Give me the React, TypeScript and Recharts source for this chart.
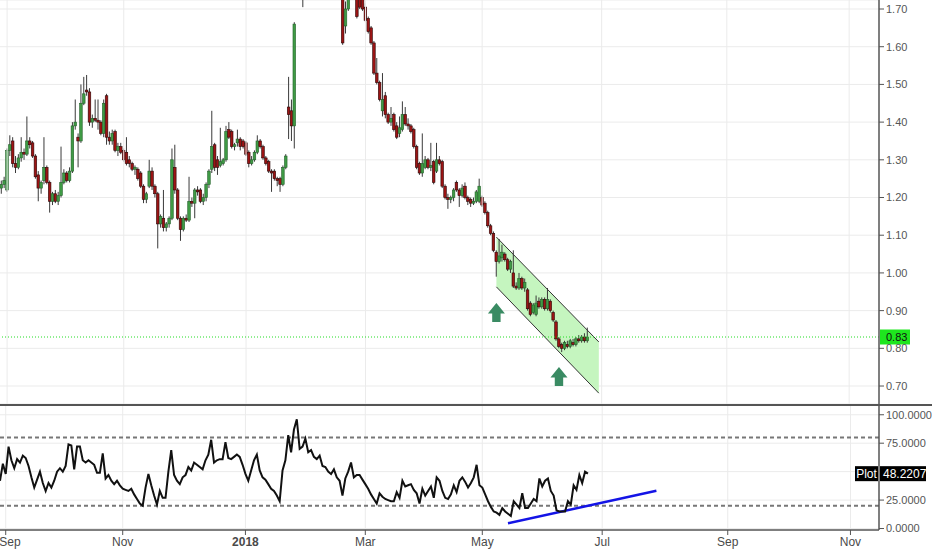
import {
    ComposedChart, Bar, Line, Area, XAxis, YAxis, CartesianGrid, ReferenceLine, ReferenceDot
} from 'recharts';

// daily candles [open, high, low, close]
const ohlc: [number, number, number, number][] = [
    [1.225, 1.245, 1.21, 1.235], [1.235, 1.255, 1.225, 1.245], [1.22, 1.33, 1.215, 1.325], [1.325, 1.365, 1.31, 1.34], [1.35, 1.36, 1.28, 1.29],
    [1.29, 1.31, 1.265, 1.28], [1.28, 1.315, 1.275, 1.305], [1.305, 1.36, 1.295, 1.32], [1.32, 1.33, 1.30, 1.315], [1.315, 1.415, 1.31, 1.35],
    [1.35, 1.36, 1.33, 1.34], [1.345, 1.35, 1.305, 1.31], [1.31, 1.315, 1.25, 1.255], [1.26, 1.27, 1.19, 1.225], [1.225, 1.245, 1.21, 1.24],
    [1.245, 1.36, 1.235, 1.28], [1.28, 1.285, 1.235, 1.24], [1.24, 1.245, 1.16, 1.19], [1.19, 1.215, 1.18, 1.21], [1.21, 1.22, 1.185, 1.19],
    [1.19, 1.215, 1.18, 1.205], [1.205, 1.335, 1.20, 1.24], [1.24, 1.275, 1.235, 1.265], [1.265, 1.27, 1.24, 1.245], [1.245, 1.28, 1.24, 1.27],
    [1.27, 1.40, 1.265, 1.39], [1.39, 1.46, 1.38, 1.40], [1.36, 1.37, 1.28, 1.35], [1.35, 1.50, 1.345, 1.45], [1.45, 1.52, 1.445, 1.475],
    [1.485, 1.525, 1.47, 1.48], [1.48, 1.49, 1.39, 1.40], [1.40, 1.42, 1.385, 1.41], [1.41, 1.46, 1.40, 1.405], [1.405, 1.46, 1.38, 1.40],
    [1.40, 1.405, 1.365, 1.37], [1.37, 1.46, 1.36, 1.45], [1.47, 1.475, 1.34, 1.36], [1.36, 1.375, 1.34, 1.35], [1.35, 1.38, 1.34, 1.37],
    [1.375, 1.38, 1.32, 1.325], [1.325, 1.345, 1.31, 1.335], [1.335, 1.345, 1.315, 1.32], [1.325, 1.33, 1.295, 1.30], [1.32, 1.36, 1.285, 1.29],
    [1.30, 1.31, 1.28, 1.29], [1.29, 1.295, 1.27, 1.275], [1.275, 1.285, 1.26, 1.28], [1.275, 1.28, 1.245, 1.25], [1.265, 1.27, 1.225, 1.23],
    [1.23, 1.235, 1.185, 1.195], [1.195, 1.215, 1.185, 1.21], [1.23, 1.30, 1.225, 1.27], [1.27, 1.28, 1.22, 1.23], [1.23, 1.235, 1.20, 1.21],
    [1.21, 1.215, 1.065, 1.13], [1.13, 1.155, 1.12, 1.15], [1.145, 1.22, 1.11, 1.12], [1.12, 1.135, 1.11, 1.13], [1.13, 1.15, 1.12, 1.145],
    [1.145, 1.33, 1.14, 1.30], [1.28, 1.34, 1.21, 1.22], [1.22, 1.225, 1.14, 1.145], [1.145, 1.15, 1.085, 1.115], [1.115, 1.15, 1.11, 1.145],
    [1.145, 1.155, 1.135, 1.14], [1.14, 1.255, 1.135, 1.19], [1.19, 1.20, 1.175, 1.185], [1.185, 1.225, 1.145, 1.22], [1.22, 1.23, 1.205, 1.215],
    [1.22, 1.225, 1.185, 1.19], [1.19, 1.21, 1.18, 1.20], [1.20, 1.24, 1.19, 1.235], [1.235, 1.275, 1.225, 1.27], [1.275, 1.43, 1.265, 1.335],
    [1.34, 1.345, 1.27, 1.28], [1.30, 1.31, 1.26, 1.28], [1.285, 1.385, 1.28, 1.295], [1.29, 1.305, 1.285, 1.30], [1.30, 1.39, 1.295, 1.375],
    [1.38, 1.40, 1.355, 1.36], [1.375, 1.38, 1.33, 1.335], [1.335, 1.345, 1.325, 1.34], [1.345, 1.38, 1.335, 1.355], [1.355, 1.36, 1.325, 1.335],
    [1.35, 1.355, 1.33, 1.335], [1.345, 1.35, 1.31, 1.315], [1.32, 1.325, 1.28, 1.29], [1.29, 1.31, 1.285, 1.30], [1.30, 1.325, 1.295, 1.32],
    [1.32, 1.365, 1.315, 1.35], [1.35, 1.355, 1.33, 1.335], [1.335, 1.34, 1.30, 1.305], [1.305, 1.31, 1.285, 1.29], [1.295, 1.30, 1.265, 1.27],
    [1.27, 1.275, 1.215, 1.265], [1.27, 1.275, 1.245, 1.25], [1.25, 1.255, 1.23, 1.245], [1.25, 1.255, 1.215, 1.235], [1.235, 1.285, 1.23, 1.28],
    [1.28, 1.315, 1.275, 1.31], [1.44, 1.52, 1.355, 1.42], [1.43, 1.46, 1.35, 1.39], [1.39, 1.665, 1.33, 1.66], [1.74, 1.82, 1.73, 1.80],
    [1.80, 1.84, 1.735, 1.77], [1.80, 1.86, 1.705, 1.78], [1.78, 1.90, 1.76, 1.88], [1.88, 1.96, 1.84, 1.92], [1.92, 1.98, 1.86, 1.90],
    [1.90, 1.94, 1.82, 1.85], [1.85, 1.92, 1.80, 1.89], [1.89, 1.95, 1.85, 1.93], [1.93, 1.97, 1.87, 1.88], [1.88, 1.90, 1.80, 1.82],
    [1.82, 1.86, 1.76, 1.78], [1.78, 1.84, 1.75, 1.83], [1.83, 1.87, 1.79, 1.80], [1.80, 1.83, 1.75, 1.77], [1.77, 1.81, 1.74, 1.79],
    [1.79, 1.80, 1.605, 1.61], [1.655, 1.72, 1.635, 1.70], [1.70, 1.75, 1.695, 1.73], [1.73, 1.78, 1.725, 1.76], [1.76, 1.79, 1.73, 1.745],
    [1.745, 1.76, 1.675, 1.68], [1.74, 1.76, 1.70, 1.705], [1.735, 1.75, 1.695, 1.70], [1.705, 1.715, 1.665, 1.67], [1.675, 1.68, 1.635, 1.64],
    [1.65, 1.655, 1.605, 1.61], [1.61, 1.615, 1.525, 1.53], [1.53, 1.57, 1.50, 1.505], [1.505, 1.51, 1.455, 1.46], [1.43, 1.53, 1.415, 1.46],
    [1.47, 1.48, 1.41, 1.42], [1.42, 1.425, 1.395, 1.40], [1.40, 1.44, 1.39, 1.41], [1.42, 1.425, 1.375, 1.38], [1.39, 1.40, 1.355, 1.36],
    [1.37, 1.415, 1.36, 1.385], [1.38, 1.455, 1.375, 1.42], [1.42, 1.44, 1.39, 1.395], [1.395, 1.41, 1.38, 1.39], [1.39, 1.395, 1.37, 1.375],
    [1.38, 1.385, 1.33, 1.335], [1.335, 1.34, 1.275, 1.28], [1.29, 1.295, 1.26, 1.265], [1.265, 1.37, 1.255, 1.29], [1.28, 1.31, 1.275, 1.30],
    [1.30, 1.305, 1.275, 1.28], [1.28, 1.345, 1.27, 1.285], [1.295, 1.30, 1.235, 1.24], [1.27, 1.345, 1.265, 1.30], [1.30, 1.31, 1.285, 1.29],
    [1.295, 1.30, 1.225, 1.23], [1.23, 1.235, 1.195, 1.20], [1.20, 1.21, 1.17, 1.195], [1.195, 1.205, 1.185, 1.20], [1.20, 1.225, 1.19, 1.22],
    [1.24, 1.245, 1.215, 1.22], [1.22, 1.225, 1.175, 1.205], [1.205, 1.235, 1.20, 1.225], [1.23, 1.24, 1.195, 1.20], [1.20, 1.205, 1.18, 1.19],
    [1.195, 1.20, 1.175, 1.185], [1.185, 1.20, 1.18, 1.19], [1.19, 1.22, 1.185, 1.215], [1.19, 1.25, 1.185, 1.23], [1.20, 1.205, 1.175, 1.18],
    [1.185, 1.19, 1.155, 1.16], [1.16, 1.165, 1.12, 1.125], [1.125, 1.13, 1.10, 1.105], [1.105, 1.11, 1.055, 1.06], [1.055, 1.06, 0.99, 1.03],
    [1.03, 1.09, 1.025, 1.045], [1.04, 1.075, 1.03, 1.055], [1.05, 1.055, 1.03, 1.035], [1.035, 1.04, 1.005, 1.01], [1.01, 1.035, 1.0, 1.03],
    [1.00, 1.06, 0.96, 0.965], [0.965, 0.975, 0.955, 0.96], [0.96, 1.00, 0.955, 0.985], [0.985, 0.99, 0.955, 0.96], [0.96, 0.985, 0.95, 0.975],
    [0.955, 0.96, 0.90, 0.905], [0.92, 0.925, 0.885, 0.89], [0.895, 0.92, 0.89, 0.915], [0.89, 0.94, 0.885, 0.92], [0.925, 0.935, 0.905, 0.91],
    [0.91, 0.935, 0.905, 0.93], [0.93, 0.935, 0.90, 0.905], [0.905, 0.96, 0.90, 0.93], [0.925, 0.93, 0.895, 0.90], [0.895, 0.90, 0.87, 0.875],
    [0.87, 0.875, 0.82, 0.825], [0.825, 0.83, 0.80, 0.805], [0.81, 0.815, 0.79, 0.80], [0.80, 0.82, 0.795, 0.815], [0.81, 0.82, 0.80, 0.805],
    [0.805, 0.825, 0.80, 0.82], [0.815, 0.825, 0.805, 0.81], [0.81, 0.83, 0.805, 0.825], [0.825, 0.835, 0.815, 0.82], [0.82, 0.835, 0.815, 0.83],
    [0.83, 0.84, 0.815, 0.82], [0.82, 0.855, 0.815, 0.83],
];

// lower panel oscillator ("Plot"), one value per candle
const oscillator = [
    42, 57, 48, 72, 60, 53, 61, 58, 64, 62,
    55, 45, 36, 43, 50, 40, 33, 40, 36, 42,
    50, 53, 50, 55, 74, 73, 52, 72, 72, 60,
    58, 60, 58, 56, 49, 49, 66, 44, 47, 42,
    39, 42, 38, 35, 34, 33, 35, 30, 26, 22,
    20, 36, 48, 38, 29, 21, 33, 27, 27, 50,
    69, 47, 42, 39, 45, 47, 54, 51, 58, 56,
    54, 52, 60, 65, 78, 58, 60, 61, 61, 76,
    62, 61, 63, 65, 63, 56, 48, 42, 51, 60,
    65, 51, 45, 43, 39, 35, 33, 29, 24, 51,
    60, 82, 67, 87, 96, 70, 72, 79, 67, 69,
    63, 61, 64, 55, 54, 50, 48, 52, 45, 42,
    29, 44, 50, 58, 45, 47, 47, 43, 39, 35,
    30, 26, 22, 31, 28, 26, 25, 24, 24, 32,
    27, 42, 37, 38, 39, 34, 31, 22, 35, 29,
    33, 37, 27, 45, 42, 33, 27, 26, 30, 38,
    32, 42, 45, 41, 36, 40, 45, 56, 38, 36,
    30, 24, 19, 15, 14, 12, 18, 15, 13, 11,
    24, 21, 18, 31, 18, 18, 22, 26, 24, 44,
    37, 42, 44, 33, 29, 16, 15, 15, 15, 24,
    21, 38, 34, 47, 40, 50, 48.2207,
];

const totalSlots = 309; // candles plus empty future bars
const monthTicks = [2, 43, 86, 128, 169, 211, 255, 298];
const monthLabels = ['Sep', 'Nov', '2018', 'Mar', 'May', 'Jul', 'Sep', 'Nov'];
const priceTicks = [0.7, 0.8, 0.9, 1.0, 1.1, 1.2, 1.3, 1.4, 1.5, 1.6, 1.7];
const oscTicks = [0, 25, 75, 100];
const oscGrid = [0, 25, 50, 75, 100];
const oscBands = [80, 20];
const lastPrice = 0.83;
const lastOsc = 48.2207;

// descending channel drawn on the price panel
const channelIdx = [174, 210];
const channelUpper = [1.095, 0.817];
const channelLower = [0.963, 0.681];
const arrowIdx = [174, 196];
const arrowPrice = [0.895, 0.725];

// support line on the oscillator
const trendIdx = [178, 230];
const trendVal = [4.6, 33.2];

const FONT = '"Liberation Sans", Arial, sans-serif';
const AXIS = '#555';
const GRID = '#ebebeb';

const data = Array.from({ length: totalSlots }, (_, i) => {
    const k = ohlc[i];
    const ci = channelIdx.indexOf(i);
    return {
        i,
        o: k?.[0], h: k?.[1], l: k?.[2], c: k?.[3],
        range: k ? [k[2], k[1]] : undefined,
        osc: oscillator[i],
        ch: ci >= 0 ? [channelLower[ci], channelUpper[ci]] : undefined,
    };
});

const Candle = (props: any) => {
    const { x, y, width, height, payload } = props;
    if (!payload || payload.o == null || !isFinite(y)) return null;
    const { o, h, l, c } = payload;
    const top = Math.min(y, y + height);
    const span = Math.abs(height);
    const k = span / (h - l);
    const py = (v: number) => top + (h - v) * k;
    const cx = x + width / 2;
    const up = c >= o;
    const bTop = py(Math.max(o, c));
    const bH = Math.max(1, py(Math.min(o, c)) - bTop);
    return (
        <g>
            <line x1={cx} x2={cx} y1={top} y2={top + span} stroke="#3a3a3a" strokeWidth={1} />
            <rect x={cx - 1.3} y={bTop} width={2.6} height={bH}
                fill={up ? '#3f9b45' : '#9c1414'} stroke={up ? '#24612a' : '#2a0606'} strokeWidth={0.6} />
        </g>
    );
};

const UpArrow = ({ cx, cy }: any) => {
    if (cx == null) return null;
    const d = `M${cx} ${cy - 9.5} L${cx + 8.5} ${cy + 1} L${cx + 4.2} ${cy + 1} L${cx + 4.2} ${cy + 9.5}`
        + ` L${cx - 4.2} ${cy + 9.5} L${cx - 4.2} ${cy + 1} L${cx - 8.5} ${cy + 1} Z`;
    return <path d={d} fill="#3a8b63" />;
};

const PriceTag = ({ viewBox }: any) => {
    if (!viewBox) return null;
    const x = viewBox.x + viewBox.width + 1;
    return (
        <g>
            <rect x={x} y={viewBox.y - 7.5} width={30} height={15} fill="#1ee61e" />
            <text x={x + 6} y={viewBox.y + 4} fontSize={11} fontFamily={FONT} fill="#111">{lastPrice.toFixed(2)}</text>
        </g>
    );
};

const PlotTag = ({ viewBox }: any) => {
    if (!viewBox) return null;
    const r = viewBox.x + viewBox.width;
    return (
        <g fontFamily={FONT} fontSize={12}>
            <rect x={r - 24} y={viewBox.y - 7.5} width={23} height={15} fill="#000" />
            <text x={r - 12.5} y={viewBox.y + 4.5} textAnchor="middle" fill="#fff">Plot</text>
            <rect x={r + 1} y={viewBox.y - 7.5} width={46} height={15} fill="#000" />
            <text x={r + 4} y={viewBox.y + 4.5} fill="#fff">{lastOsc.toFixed(4)}</text>
        </g>
    );
};

const MonthTick = ({ x, y, payload }: any) => {
    const label = monthLabels[monthTicks.indexOf(payload.value)];
    // keep the first label inside the left edge, as the reference does
    const tx = Math.max(x, 10);
    return (
        <text x={tx} y={y + 9} textAnchor="middle" fontSize={12} fontFamily={FONT}
            fill="#4a4a4a" fontWeight={label === '2018' ? 'bold' : 'normal'}>{label}</text>
    );
};

export default function App() {
    return (
        <div style={{ position: 'absolute', left: 0, top: 0, width: 932, height: 550, background: '#fff' }}>
            <ComposedChart width={932} height={404} data={data} margin={{ top: 0, right: 0, left: 0, bottom: 0 }}
                barCategoryGap="10%">
                <CartesianGrid vertical={false} stroke={GRID} />
                {monthTicks.map(t => <ReferenceLine key={t} x={t} stroke={GRID} />)}
                <XAxis dataKey="i" type="category" hide />
                <YAxis orientation="right" width={53} domain={[0.6523, 1.7239]} allowDataOverflow
                    ticks={priceTicks} tickFormatter={(v: number) => v.toFixed(2)}
                    tick={{ fontSize: 11, fill: '#555', fontFamily: FONT, textAnchor: 'start' }}
                    tickSize={5} tickMargin={2} stroke={AXIS} axisLine={{ stroke: AXIS, strokeWidth: 1.5 }} />
                <Area dataKey="ch" connectNulls stroke="none" fill="#c5f5bf" fillOpacity={1}
                    isAnimationActive={false} />
                <ReferenceLine segment={[{ x: channelIdx[0], y: channelUpper[0] }, { x: channelIdx[1], y: channelUpper[1] }]}
                    stroke="#333" strokeWidth={1} />
                <ReferenceLine segment={[{ x: channelIdx[0], y: channelLower[0] }, { x: channelIdx[1], y: channelLower[1] }]}
                    stroke="#333" strokeWidth={1} />
                <ReferenceLine y={lastPrice} stroke="#22dd22" strokeDasharray="1 2" label={<PriceTag />} />
                <Bar dataKey="range" shape={<Candle />} isAnimationActive={false} />
                {arrowIdx.map((a, n) => (
                    <ReferenceDot key={a} x={a} y={arrowPrice[n]} shape={<UpArrow />} />
                ))}
            </ComposedChart>
            <div style={{ position: 'absolute', left: 0, top: 404, width: 932, height: 2, background: AXIS }} />
            <div style={{ position: 'absolute', left: 0, top: 404 }}>
                <ComposedChart width={932} height={146} data={data} margin={{ top: 2, right: 0, left: 0, bottom: 0 }}>
                    {oscGrid.map(g => <ReferenceLine key={'g' + g} y={g} stroke={GRID} />)}
                    {monthTicks.map(t => <ReferenceLine key={t} x={t} stroke={GRID} />)}
                    <XAxis dataKey="i" type="category" ticks={monthTicks} interval={0} height={20}
                        tick={<MonthTick />} tickSize={5} stroke={AXIS} axisLine={{ stroke: AXIS, strokeWidth: 1.5 }} />
                    <YAxis orientation="right" width={53} domain={[-1.3, 107.7]} allowDataOverflow
                        ticks={oscTicks} tickFormatter={(v: number) => v.toFixed(4)}
                        tick={{ fontSize: 11, fill: '#555', fontFamily: FONT, textAnchor: 'start' }}
                        tickSize={5} tickMargin={2} stroke={AXIS} axisLine={{ stroke: AXIS, strokeWidth: 1.5 }} />
                    {oscBands.map(b => (
                        <ReferenceLine key={'b' + b} y={b} stroke="#777" strokeWidth={2} strokeDasharray="4 3" />
                    ))}
                    <ReferenceLine segment={[{ x: trendIdx[0], y: trendVal[0] }, { x: trendIdx[1], y: trendVal[1] }]}
                        stroke="#1414e6" strokeWidth={2.5} />
                    <Line dataKey="osc" stroke="#111" strokeWidth={2} dot={false} type="linear"
                        isAnimationActive={false} />
                    <ReferenceLine y={lastOsc} stroke="none" label={<PlotTag />} />
                </ComposedChart>
            </div>
        </div>
    );
}
